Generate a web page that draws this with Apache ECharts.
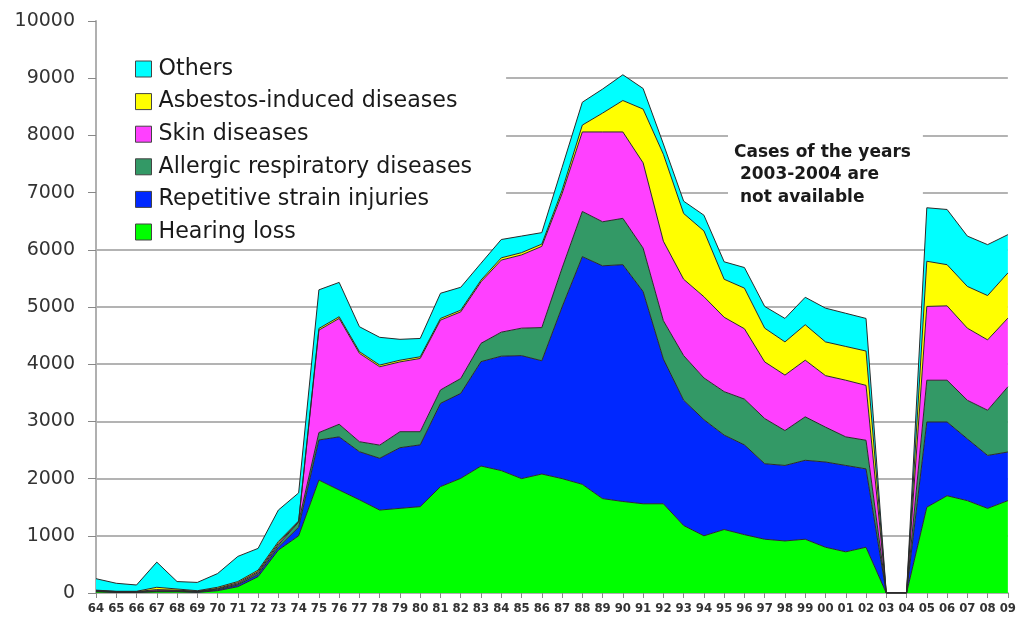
<!DOCTYPE html>
<html>
<head>
<meta charset="utf-8">
<script src="https://cdn.jsdelivr.net/npm/echarts@6/dist/echarts.min.js"></script>
<style>
html,body{margin:0;padding:0;background:#fff;}
#chart{width:1019px;height:625px;}
</style>
</head>
<body>
<div id="chart"></div>
<script>
const years = ['64','65','66','67','68','69','70','71','72','73','74','75','76','77','78','79','80','81','82','83','84','85','86','87','88','89','90','91','92','93','94','95','96','97','98','99','00','01','02','03','04','05','06','07','08','09'];

const hearingLoss = [20,10,10,20,20,10,40,110,285,750,1000,1975,1800,1630,1450,1480,1510,1860,2005,2220,2140,2000,2080,2000,1900,1650,1600,1560,1560,1180,1000,1110,1020,940,910,940,800,720,800,0,0,1500,1700,1615,1480,1615];
const repetitive = [10,5,5,10,10,10,15,30,40,50,150,700,930,840,905,1060,1080,1455,1485,1825,2000,2150,1980,3000,3980,4070,4140,3710,2530,2190,2030,1650,1570,1320,1320,1380,1490,1510,1370,0,0,1490,1290,1080,925,850];
const allergic = [10,5,5,10,10,5,15,20,30,40,90,130,220,175,230,280,230,235,260,320,420,480,580,680,790,770,810,760,670,780,730,760,800,790,610,760,610,500,500,0,0,730,730,675,790,1140];
const skin = [5,5,5,20,10,5,10,20,20,30,10,1790,1850,1545,1370,1220,1280,1220,1165,1075,1260,1280,1420,1300,1390,1570,1510,1490,1390,1335,1420,1300,1230,990,970,990,900,990,960,0,0,1290,1300,1260,1230,1200];
const asbestos = [5,5,5,40,20,10,20,20,25,30,10,30,30,30,30,30,30,30,30,30,40,40,40,60,120,330,550,940,1520,1150,1150,665,710,590,580,620,590,590,600,0,0,790,720,730,775,790];
const others = [200,140,110,440,130,145,240,440,380,550,490,675,600,435,485,365,320,440,400,295,320,290,200,400,400,420,450,360,180,215,275,305,360,380,410,480,590,580,570,0,0,935,965,880,890,670];

const seriesNames = ['Hearing loss','Repetitive strain injuries','Allergic respiratory diseases','Skin diseases','Asbestos-induced diseases','Others'];
const seriesData = [hearingLoss, repetitive, allergic, skin, asbestos, others];
const seriesColors = ['#00ff00','#0028ff','#339966','#ff40ff','#ffff00','#00ffff'];
const legendOrder = ['Others','Asbestos-induced diseases','Skin diseases','Allergic respiratory diseases','Repetitive strain injuries','Hearing loss'];
const yTicks = [0,1000,2000,3000,4000,5000,6000,7000,8000,9000,10000];
const noteLines = ['Cases of the years', ' 2003-2004 are', ' not available'];

const gridColors = yTicks.map((v, i) => i === yTicks.length - 1 ? 'rgba(0,0,0,0)' : '#9a9a9a');

const chart = echarts.init(document.getElementById('chart'), null, {renderer: 'canvas'});
chart.setOption({
  animation: false,
  backgroundColor: '#ffffff',
  grid: {left: 96, right: 6, top: 21, bottom: 32, containLabel: false},
  legend: {
    data: legendOrder,
    orient: 'vertical',
    left: 97,
    top: 44,
    padding: [14, 34, 2, 38],
    backgroundColor: '#ffffff',
    itemWidth: 16,
    itemHeight: 16,
    itemGap: 10.6,
    icon: 'rect',
    z: 1,
    itemStyle: {borderColor: '#444', borderWidth: 1},
    textStyle: {fontFamily: 'DejaVu Sans', fontSize: 22.2, color: '#1a1a1a', lineHeight: 22, padding: [0, 0, 0, 2]}
  },
  xAxis: {
    type: 'category',
    data: years,
    boundaryGap: false,
    axisLine: {show: true, lineStyle: {color: '#b0b0b0', width: 2}},
    axisTick: {show: true, length: 5, lineStyle: {color: '#888', width: 1}},
    axisLabel: {interval: 0, margin: 9, color: '#333', fontFamily: "'Liberation Sans Narrow', 'DejaVu Sans Condensed', sans-serif", fontWeight: 'bold', fontSize: 13},
    splitLine: {show: false}
  },
  yAxis: {
    type: 'value',
    min: yTicks[0],
    max: yTicks[yTicks.length - 1],
    interval: 1000,
    axisLine: {show: true, lineStyle: {color: '#b0b0b0', width: 2}},
    axisTick: {show: true, inside: false, length: 8, lineStyle: {color: '#888', width: 1}},
    axisLabel: {margin: 21, color: '#333', fontFamily: 'DejaVu Sans', fontSize: 19, formatter: function (v) { return String(v); }},
    splitLine: {show: true, lineStyle: {color: gridColors, width: 1.5}}
  },
  graphic: [{
    type: 'text',
    left: 728,
    top: 128,
    z: 1,
    style: {
      text: noteLines.join('\n'),
      font: 'bold 17px "DejaVu Sans"',
      fill: '#1a1a1a',
      lineHeight: 22.5,
      backgroundColor: '#ffffff',
      padding: [13, 12, 4, 6]
    }
  }],
  series: seriesNames.map((name, i) => ({
    name: name,
    type: 'line',
    stack: 'total',
    data: seriesData[i],
    symbol: 'none',
    z: 2,
    itemStyle: {color: seriesColors[i]},
    lineStyle: {color: '#2a2a2a', width: 1},
    areaStyle: {color: seriesColors[i], opacity: 1}
  }))
});
</script>
</body>
</html>
